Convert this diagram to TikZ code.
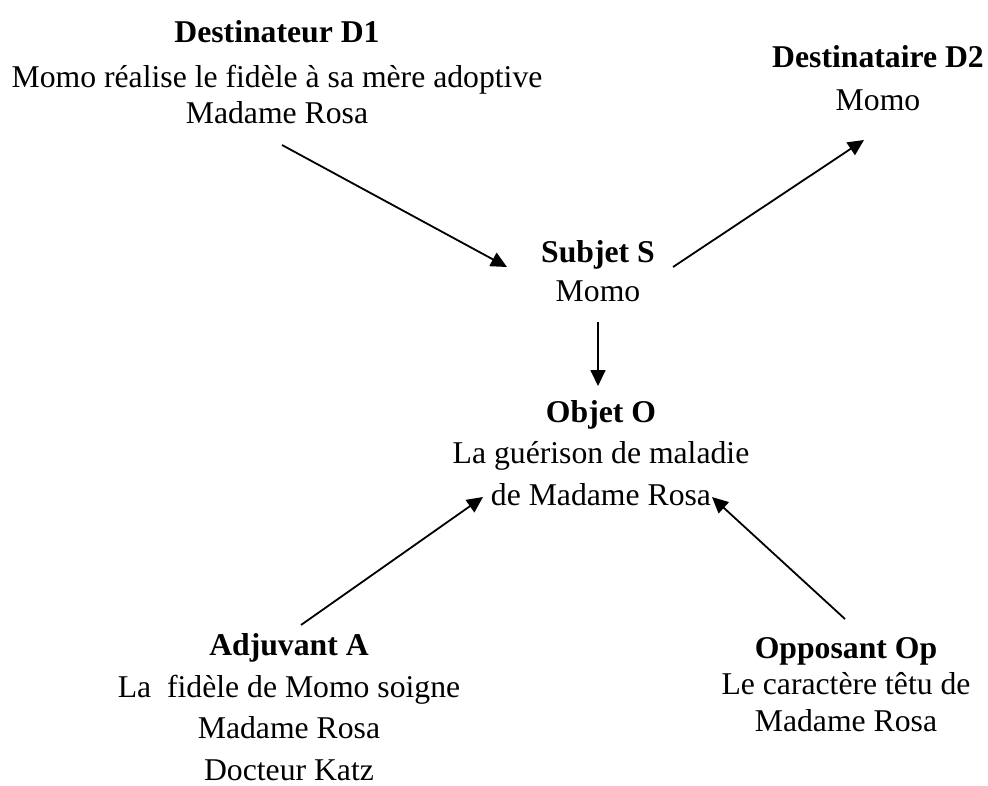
\documentclass[tikz,border=0pt]{standalone}
\usepackage{fontspec}
\setmainfont{Liberation Serif}
\usetikzlibrary{arrows.meta}
\begin{document}
\begin{tikzpicture}[x=1pt,y=-1pt,
  lbl/.style={anchor=base, align=center, inner sep=0pt},
  arr/.style={line width=1.8pt, -{Triangle[length=16pt,width=15pt]}}]
\useasboundingbox (0,0) rectangle (988,785);
\node[lbl, font=\fontsize{31.7}{36}\selectfont] (d1) at (277,123)
  {\textbf{Destinateur D1}\\[9pt]Momo réalise le fidèle à sa mère adoptive\\Madame Rosa};
\node[lbl, font=\fontsize{31.7}{43}\selectfont] (d2) at (878,110)
  {\textbf{Destinataire D2}\\Momo};
\node[lbl, font=\fontsize{31.7}{39}\selectfont] (s) at (598,301)
  {\textbf{Subjet S}\\Momo};
\node[lbl, font=\fontsize{31.7}{41.5}\selectfont] (o) at (601,505)
  {\textbf{Objet O}\\La guérison de maladie\\de Madame Rosa};
\node[lbl, font=\fontsize{31.7}{41.5}\selectfont] (a) at (289,780)
  {\textbf{Adjuvant A}\\La\ \ fidèle de Momo soigne\\Madame Rosa\\Docteur Katz};
\node[lbl, font=\fontsize{31.7}{36.5}\selectfont] (op) at (846,731)
  {\textbf{Opposant Op}\\Le caractère têtu de\\Madame Rosa};
\coordinate (d1out) at (282,145);
\coordinate (sin) at (507,267);
\coordinate (sout) at (673,267);
\coordinate (d2in) at (864,140);
\coordinate (sdown) at (598,322);
\coordinate (oin) at (598,386);
\coordinate (aout) at (301,625);
\coordinate (oinA) at (483,497);
\coordinate (opout) at (845,619);
\coordinate (oinOp) at (712,497);
\draw[arr] (d1out) -- (sin);
\draw[arr] (sout) -- (d2in);
\draw[arr] (sdown) -- (oin);
\draw[arr] (aout) -- (oinA);
\draw[arr] (opout) -- (oinOp);
\end{tikzpicture}
\end{document}
